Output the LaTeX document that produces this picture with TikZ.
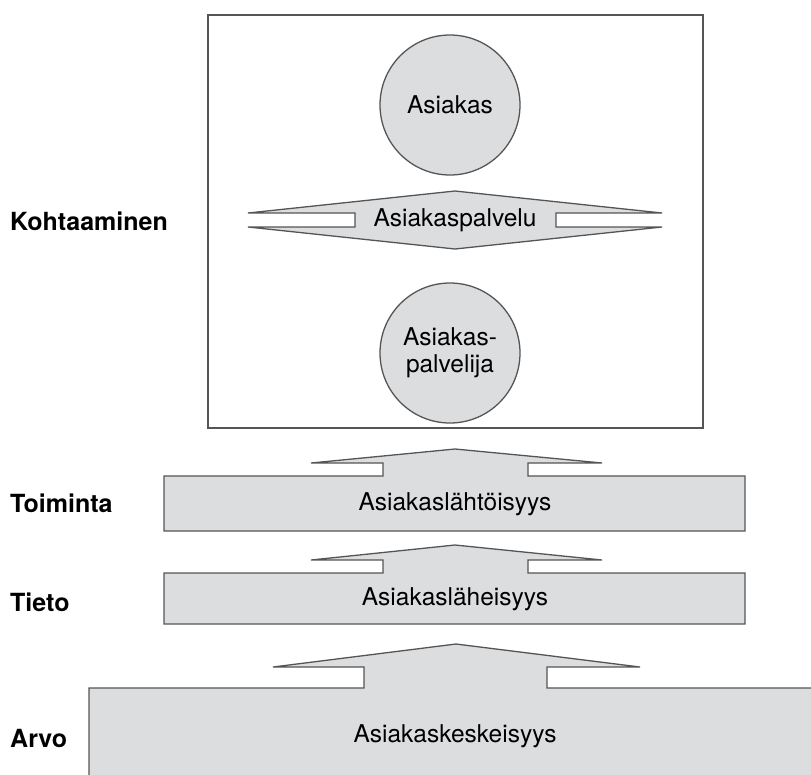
\documentclass[tikz,border=0pt]{standalone}
\usepackage{fontspec}
\usetikzlibrary{shapes.geometric}
\setmainfont{TeX Gyre Heros}
\definecolor{boxfill}{HTML}{DCDDDF}
\definecolor{edgec}{HTML}{555555}
\begin{document}
\begin{tikzpicture}[x=1pt,y=-1pt,
  blk/.style={fill=boxfill,draw=edgec,line width=1.3pt,line join=miter},
  lvl/.style={anchor=west,font=\bfseries\fontsize{25}{29}\selectfont,inner sep=0pt},
  txt/.style={font=\fontsize{24.5}{27}\selectfont,inner sep=0pt,align=center}]
\useasboundingbox (0,0) rectangle (811,774);
\clip (0,0) rectangle (811,774);
% outer frame
\draw[draw=edgec,line width=1.2pt] (208,15) rectangle (703,428);
% circles
\node[blk,ellipse,minimum width=140pt,minimum height=140pt,inner sep=0pt] (asiakas) at (450,105) {};
\node[txt] at (asiakas.center) {Asiakas};
\node[blk,ellipse,minimum width=140pt,minimum height=140pt,inner sep=0pt] (palvelija) at (450,353) {};
\node[txt] at (palvelija.center) {Asiakas-\\palvelija};
% double arrow
\draw[blk] (248,213) -- (455,191) -- (662,213) -- (556,213) -- (556,227) -- (662,227)
  -- (455,249) -- (248,227) -- (355,227) -- (355,213) -- cycle;
\node[txt] (palvelu) at (455,220) {Asiakaspalvelu};
% level 1
\draw[blk] (164,476) -- (383,476) -- (383,463) -- (311,463) -- (455,449) -- (602,463)
  -- (528,463) -- (528,476) -- (745,476) -- (745,531) -- (164,531) -- cycle;
\node[txt] (lahto) at (455,504) {Asiakaslähtöisyys};
% level 2
\draw[blk] (164,573) -- (383,573) -- (383,560) -- (311,560) -- (455,545) -- (602,560)
  -- (528,560) -- (528,573) -- (745,573) -- (745,624) -- (164,624) -- cycle;
\node[txt] (lahei) at (455,599) {Asiakasläheisyys};
% level 3
\fill[boxfill] (89,800) -- (89,688) -- (364,688) -- (364,667) -- (273,667) -- (456,644)
  -- (640,667) -- (547,667) -- (547,688) -- (830,688) -- (830,800) -- cycle;
\draw[draw=edgec,line width=1.3pt,line join=miter] (89,800) -- (89,688) -- (364,688) -- (364,667) -- (273,667) -- (456,644)
  -- (640,667) -- (547,667) -- (547,688) -- (830,688);
\node[txt] (keski) at (455,736) {Asiakaskeskeisyys};
% labels
\node[lvl] (l1) at (10,221) {Kohtaaminen};
\node[lvl] (l2) at (10,503) {Toiminta};
\node[lvl] (l3) at (10,602) {Tieto};
\node[lvl] (l4) at (10,738) {Arvo};
\end{tikzpicture}
\end{document}
